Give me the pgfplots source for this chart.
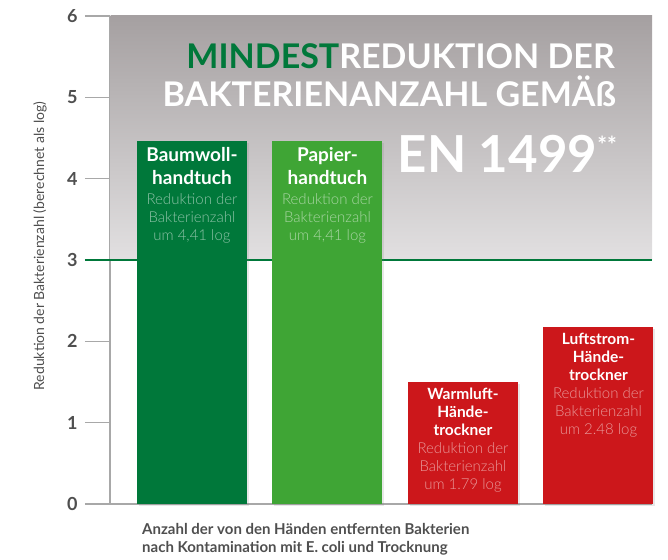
\documentclass[border=0pt]{standalone}
\usepackage{pgfplots}
\pgfplotsset{compat=1.18}
\usepackage{fontspec}
\setmainfont{Lato}
\newfontfamily\latolight{Lato Light}
\usetikzlibrary{shadows}
\definecolor{dgreen}{HTML}{00783A}
\definecolor{lgreen}{HTML}{3FA535}
\definecolor{dred}{HTML}{CC171B}
\definecolor{axgray}{HTML}{A8A8A8}
\definecolor{txtgray}{HTML}{4F4F4F}
\definecolor{shtop}{HTML}{A5A0A1}
\definecolor{shmid}{HTML}{BDB9BA}
\definecolor{shbot}{HTML}{E2E0E1}
\begin{document}
\begin{tikzpicture}[x=1pt,y=1pt]
\useasboundingbox (0,0) rectangle (668,559);
\begin{axis}[
  at={(110pt,55pt)}, anchor=south west,
  scale only axis, width=542pt, height=488pt,
  xmin=-0.605, xmax=3.395, ymin=0, ymax=6,
  axis lines*=left,
  axis line style={-, axgray, line width=1.3pt},
  xtick=\empty, ytick={0,1,2,3,4,5,6},
  tick align=outside, major tick length=25pt,
  tick style={axgray, line width=1.3pt},
  yticklabel style={font=\fontsize{18}{18}\selectfont\bfseries, text=txtgray, xshift=-4pt},
  /pgf/number format/assume math mode=true,
  clip=false,
]
\fill[top color=shtop, middle color=shmid, bottom color=shbot] (axis cs:-0.6,3) rectangle (axis cs:3.395,6);
\addplot[dgreen, line width=2pt] coordinates {(-0.79,3) (3.395,3)};
\addplot[ybar, bar width=110pt, bar shift=0pt, fill=dgreen, draw=none, drop shadow={shadow xshift=2pt, shadow yshift=-2pt, opacity=0.18}] coordinates {(0,4.457)};
\addplot[ybar, bar width=110pt, bar shift=0pt, fill=lgreen, draw=none, drop shadow={shadow xshift=2pt, shadow yshift=-2pt, opacity=0.18}] coordinates {(1,4.457)};
\addplot[ybar, bar width=110pt, bar shift=0pt, fill=dred, draw=none, drop shadow={shadow xshift=2pt, shadow yshift=-2pt, opacity=0.18}] coordinates {(2,1.50)};
\addplot[ybar, bar width=110pt, bar shift=0pt, fill=dred, draw=none, drop shadow={shadow xshift=2pt, shadow yshift=-2pt, opacity=0.18}] coordinates {(3,2.176)};
% bar 1
\node[anchor=base, text=white, font=\fontsize{19}{19}\selectfont\bfseries] at ([yshift=-20.5pt]axis cs:0,4.457) {Baumwoll-};
\node[anchor=base, text=white, font=\fontsize{19}{19}\selectfont\bfseries] at ([yshift=-43.5pt]axis cs:0,4.457) {handtuch};
\node[anchor=base, text=white!55!dgreen, font=\fontsize{15}{15}\latolight] at ([yshift=-63.5pt]axis cs:0,4.457) {Reduktion der};
\node[anchor=base, text=white!55!dgreen, font=\fontsize{15}{15}\latolight] at ([yshift=-81.5pt]axis cs:0,4.457) {Bakterienzahl};
\node[anchor=base, text=white!55!dgreen, font=\fontsize{15}{15}\latolight] at ([yshift=-99pt]axis cs:0,4.457) {um 4,41 log};
% bar 2
\node[anchor=base, text=white, font=\fontsize{19}{19}\selectfont\bfseries] at ([yshift=-20.5pt]axis cs:1,4.457) {Papier-};
\node[anchor=base, text=white, font=\fontsize{19}{19}\selectfont\bfseries] at ([yshift=-43.5pt]axis cs:1,4.457) {handtuch};
\node[anchor=base, text=white!55!lgreen, font=\fontsize{15}{15}\latolight] at ([yshift=-63.5pt]axis cs:1,4.457) {Reduktion der};
\node[anchor=base, text=white!55!lgreen, font=\fontsize{15}{15}\latolight] at ([yshift=-81.5pt]axis cs:1,4.457) {Bakterienzahl};
\node[anchor=base, text=white!55!lgreen, font=\fontsize{15}{15}\latolight] at ([yshift=-99pt]axis cs:1,4.457) {um 4,41 log};
% bar 3
\node[anchor=base, text=white, font=\fontsize{15.5}{15.5}\selectfont\bfseries] at ([yshift=-17.5pt]axis cs:2,1.50) {Warmluft-};
\node[anchor=base, text=white, font=\fontsize{15.5}{15.5}\selectfont\bfseries] at ([yshift=-35.5pt]axis cs:2,1.50) {Hände-};
\node[anchor=base, text=white, font=\fontsize{15.5}{15.5}\selectfont\bfseries] at ([yshift=-53.5pt]axis cs:2,1.50) {trockner};
\node[anchor=base, text=white!55!dred, font=\fontsize{15}{15}\latolight] at ([yshift=-71pt]axis cs:2,1.50) {Reduktion der};
\node[anchor=base, text=white!55!dred, font=\fontsize{15}{15}\latolight] at ([yshift=-89pt]axis cs:2,1.50) {Bakterienzahl};
\node[anchor=base, text=white!55!dred, font=\fontsize{15}{15}\latolight] at ([yshift=-107pt]axis cs:2,1.50) {um 1.79 log};
% bar 4
\node[anchor=base, text=white, font=\fontsize{15.5}{15.5}\selectfont\bfseries] at ([yshift=-17.5pt]axis cs:3,2.176) {Luftstrom-};
\node[anchor=base, text=white, font=\fontsize{15.5}{15.5}\selectfont\bfseries] at ([yshift=-35.5pt]axis cs:3,2.176) {Hände-};
\node[anchor=base, text=white, font=\fontsize{15.5}{15.5}\selectfont\bfseries] at ([yshift=-53.5pt]axis cs:3,2.176) {trockner};
\node[anchor=base, text=white!55!dred, font=\fontsize{15}{15}\latolight] at ([yshift=-71pt]axis cs:3,2.176) {Reduktion der};
\node[anchor=base, text=white!55!dred, font=\fontsize{15}{15}\latolight] at ([yshift=-89pt]axis cs:3,2.176) {Bakterienzahl};
\node[anchor=base, text=white!55!dred, font=\fontsize{15}{15}\latolight] at ([yshift=-107pt]axis cs:3,2.176) {um 2.48 log};
\end{axis}
% title
\node[anchor=base east, inner sep=0pt, font=\fontsize{34}{34}\selectfont\bfseries] at (615,490) {\textcolor{dgreen}{MINDEST}\textcolor{white}{REDUKTION DER}};
\node[anchor=base east, inner sep=0pt, text=white, font=\fontsize{34}{34}\selectfont\bfseries] at (616,452) {BAKTERIENANZAHL GEMÄß};
\node[anchor=base east, inner sep=0pt, text=white, font=\fontsize{51}{51}\selectfont\bfseries] at (617,386) {EN 1499\raisebox{19pt}{\fontsize{23}{23}\selectfont **}};
% y label
\node[rotate=90, text=txtgray, font=\fontsize{14}{14}\selectfont] at (40,313) {Reduktion der Bakterienzahl (berechnet als log)};
% x label
\node[anchor=base west, inner sep=0pt, text=txtgray, font=\fontsize{15}{15}\selectfont\bfseries] at (142,25) {Anzahl der von den Händen entfernten Bakterien};
\node[anchor=base west, inner sep=0pt, text=txtgray, font=\fontsize{15}{15}\selectfont\bfseries] at (142,7) {nach Kontamination mit E. coli und Trocknung};
\end{tikzpicture}
\end{document}
